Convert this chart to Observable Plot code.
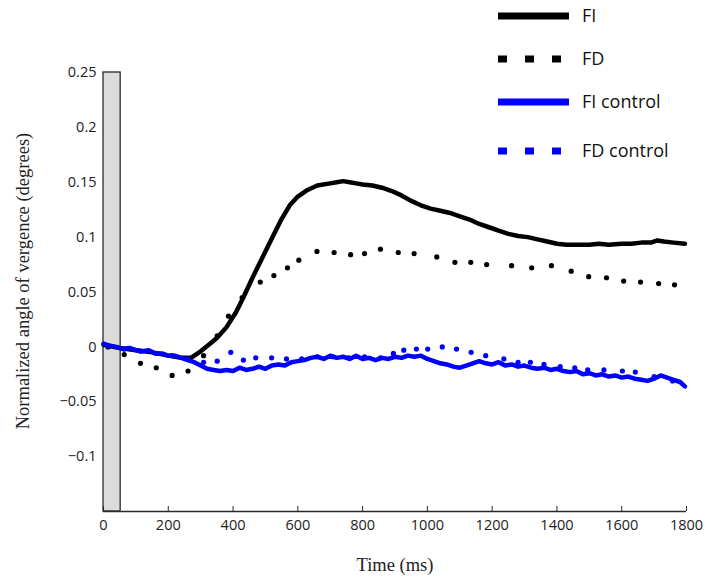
<!DOCTYPE html>
<html>
<head>
<meta charset="utf-8">
<script src="https://cdn.jsdelivr.net/npm/d3@7"></script>
<script src="https://cdn.jsdelivr.net/npm/@observablehq/plot@0.6"></script>
<style>
  html, body { margin: 0; padding: 0; background: #fff; }
  #wrap { position: relative; width: 709px; height: 577px; }
  #legend { position: absolute; left: 0; top: 0; }
  #legend text { font-family: "Open Sans", sans-serif; font-size: 18px; fill: #111; }
</style>
</head>
<body>
<div id="wrap"></div>
<script>
// ---- data ----
const xTicks = [0, 200, 400, 600, 800, 1000, 1200, 1400, 1600, 1800];
const yTicks = [-0.1, -0.05, 0, 0.05, 0.1, 0.15, 0.2, 0.25];
const stimulusWindow = [0, 53]; // ms, grey bar

const fiTime = [0,50,100,150,200,240,270,300,325,350,380,410,435,460,490,520,547,575,600,630,660,700,720,740,760,780,800,830,860,890,920,950,980,1010,1040,1070,1100,1130,1160,1190,1220,1250,1280,1310,1340,1370,1400,1430,1460,1500,1530,1560,1600,1630,1660,1690,1710,1730,1760,1795];
const fiValue = [0.002,-0.001,-0.003,-0.005,-0.008,-0.010,-0.010,-0.004,0.002,0.008,0.018,0.032,0.047,0.063,0.081,0.099,0.115,0.129,0.137,0.143,0.147,0.149,0.150,0.151,0.150,0.149,0.148,0.147,0.145,0.142,0.138,0.133,0.129,0.126,0.124,0.122,0.119,0.116,0.112,0.109,0.106,0.103,0.101,0.100,0.098,0.096,0.094,0.093,0.093,0.093,0.094,0.093,0.094,0.094,0.095,0.095,0.097,0.096,0.095,0.094];

const fdTime = [14,64,114,163,212,261,309,351,386,428,484,526,568,603,659,712,763,806,855,910,959,1029,1085,1134,1183,1260,1322,1383,1444,1498,1553,1606,1658,1714,1763];
const fdValue = [0.000,-0.007,-0.015,-0.019,-0.026,-0.022,-0.008,0.010,0.028,0.045,0.059,0.065,0.072,0.079,0.087,0.086,0.084,0.085,0.089,0.086,0.085,0.082,0.077,0.077,0.075,0.074,0.072,0.074,0.069,0.064,0.063,0.060,0.059,0.0577,0.0565];

const fiCtrlTime = [0,20,40,60,80,100,120,140,160,180,200,220,240,260,280,300,320,340,360,380,400,420,440,460,480,500,520,540,560,580,600,620,640,660,680,700,720,740,760,780,800,820,840,860,880,900,920,940,960,980,1000,1020,1040,1060,1080,1100,1120,1140,1160,1180,1200,1220,1240,1260,1280,1300,1320,1340,1360,1380,1400,1420,1440,1460,1480,1500,1520,1540,1560,1580,1600,1620,1640,1660,1680,1700,1720,1740,1760,1780,1795];
const fiCtrlValue = [0.003,0.001,0.000,-0.002,-0.001,-0.003,-0.004,-0.003,-0.006,-0.006,-0.008,-0.008,-0.010,-0.012,-0.014,-0.017,-0.020,-0.021,-0.022,-0.021,-0.022,-0.019,-0.021,-0.020,-0.018,-0.020,-0.017,-0.016,-0.017,-0.014,-0.013,-0.012,-0.010,-0.009,-0.011,-0.008,-0.010,-0.009,-0.011,-0.008,-0.011,-0.010,-0.012,-0.010,-0.011,-0.009,-0.010,-0.008,-0.009,-0.008,-0.011,-0.013,-0.015,-0.016,-0.018,-0.019,-0.017,-0.015,-0.013,-0.015,-0.016,-0.014,-0.017,-0.016,-0.018,-0.017,-0.019,-0.020,-0.019,-0.021,-0.020,-0.022,-0.023,-0.022,-0.025,-0.024,-0.026,-0.025,-0.027,-0.026,-0.028,-0.027,-0.029,-0.030,-0.031,-0.029,-0.026,-0.028,-0.030,-0.032,-0.036];

const fdCtrlTime = [14,64,114,163,212,261,309,351,393,432,470,519,565,612,660,708,757,806,855,895,927,966,1001,1046,1090,1135,1180,1236,1280,1318,1360,1410,1455,1495,1545,1602,1642,1700,1757];
const fdCtrlValue = [0.001,-0.002,-0.004,-0.006,-0.008,-0.011,-0.014,-0.013,-0.005,-0.012,-0.010,-0.010,-0.011,-0.011,-0.009,-0.009,-0.010,-0.009,-0.010,-0.006,-0.003,-0.002,-0.002,0.000,-0.002,-0.005,-0.008,-0.011,-0.014,-0.014,-0.016,-0.018,-0.019,-0.021,-0.021,-0.022,-0.023,-0.027,-0.031];

const seriesNames = ["FI", "FD", "FI control", "FD control"];
const seriesColors = ["#000000", "#000000", "#0000ff", "#0000ff"];

const yLabel = "Normalized angle of vergence (degrees)";
const xLabel = "Time (ms)";

// ---- build tables ----
const zip = (t, v) => t.map((d, i) => ({t: d, v: v[i]}));
const fi = zip(fiTime, fiValue);
const fd = zip(fdTime, fdValue);
const fiCtrl = zip(fiCtrlTime, fiCtrlValue);
const fdCtrl = zip(fdCtrlTime, fdCtrlValue);

const fmt = d => d === 0 ? "0" : (d < 0 ? "\u2212" : "") + String(+Math.abs(d).toFixed(2));

const chart = Plot.plot({
  width: 709,
  height: 577,
  marginLeft: 103,
  marginRight: 23,
  marginTop: 72,
  marginBottom: 66,
  style: {fontFamily: "'Open Sans', sans-serif", fontSize: "14.5px", color: "#222", background: "#fff"},
  x: {domain: [0, 1800]},
  y: {domain: [-0.15, 0.25]},
  marks: [
    Plot.rect([stimulusWindow], {x1: d => d[0], x2: d => d[1], y1: -0.15, y2: 0.25, fill: "#dcdcdc", stroke: "#2a2a2a", strokeWidth: 1.3}),
    Plot.ruleY([-0.15], {stroke: "#2a2a2a", strokeWidth: 1.3}),
    Plot.axisX({ticks: xTicks, tickSize: -5, tickPadding: 13, tickFormat: d => String(d), label: null, stroke: "#2a2a2a"}),
    Plot.axisY({ticks: yTicks, tickSize: 0, tickPadding: 7, tickFormat: fmt, label: null}),
    Plot.line(fi, {x: "t", y: "v", stroke: seriesColors[0], strokeWidth: 4.5, curve: "linear"}),
    Plot.dot(fd, {x: "t", y: "v", r: 2.6, fill: seriesColors[1], stroke: null}),
    Plot.dot(fdCtrl, {x: "t", y: "v", r: 2.6, fill: seriesColors[3], stroke: null}),
    Plot.line(fiCtrl, {x: "t", y: "v", stroke: seriesColors[2], strokeWidth: 4.5, curve: "linear"}),
    Plot.text([yLabel], {frameAnchor: "left", rotate: -90, dx: -80, dy: -11, textAnchor: "middle", lineAnchor: "middle", fontFamily: "'Liberation Serif', serif", fontSize: 18.5, fill: "#222"}),
    Plot.text([xLabel], {frameAnchor: "bottom", dy: 54, lineAnchor: "middle", fontFamily: "'Liberation Serif', serif", fontSize: 18.5, fill: "#222"})
  ]
});

const wrap = document.getElementById("wrap");
wrap.appendChild(chart);

// ---- legend (overlay) ----
const legendRows = [16, 59, 102, 151];
const legendDash = [null, "9,18", null, "9,18"];
const ns = "http://www.w3.org/2000/svg";
const lg = document.createElementNS(ns, "svg");
lg.setAttribute("id", "legend");
lg.setAttribute("width", 709);
lg.setAttribute("height", 175);
seriesNames.forEach((name, i) => {
  const y = legendRows[i];
  const ln = document.createElementNS(ns, "line");
  ln.setAttribute("x1", 498); ln.setAttribute("x2", 569);
  ln.setAttribute("y1", y); ln.setAttribute("y2", y);
  ln.setAttribute("stroke", seriesColors[i]);
  ln.setAttribute("stroke-width", 7);
  if (legendDash[i]) ln.setAttribute("stroke-dasharray", legendDash[i]);
  lg.appendChild(ln);
  const tx = document.createElementNS(ns, "text");
  tx.setAttribute("x", 582); tx.setAttribute("y", y);
  tx.setAttribute("dy", "0.35em");
  tx.textContent = name;
  lg.appendChild(tx);
});
wrap.appendChild(lg);
</script>
</body>
</html>
